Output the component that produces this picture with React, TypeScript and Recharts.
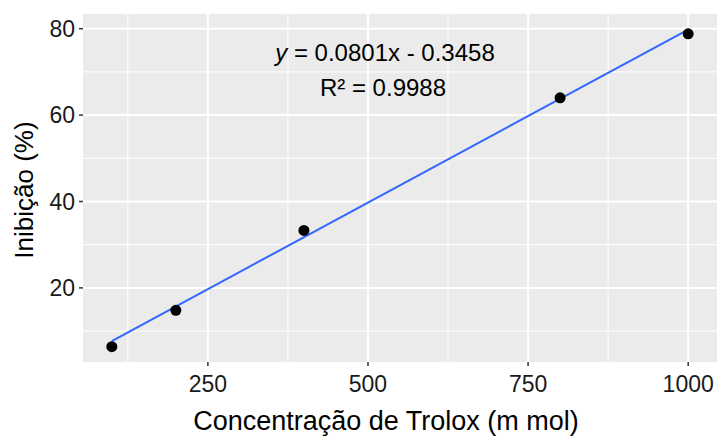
import React from "react";
import {
  ComposedChart,
  Scatter,
  Line,
  XAxis,
  YAxis,
  CartesianGrid,
  ReferenceDot,
  Label,
} from "recharts";

// values
const concentration = [100, 200, 400, 800, 1000];
const inhibition = [6.4, 14.8, 33.3, 64.0, 78.8];
const fitX = [100, 1000];
const fitY = [7.7, 79.8];
const xTicks = [250, 500, 750, 1000];
const xMinor = [125, 375, 625, 875];
const yTicks = [20, 40, 60, 80];
const yMinor = [10, 30, 50, 70];
const eqText = "= 0.0801x - 0.3458";
const r2Text = "R² = 0.9988";
const eqPos = { x: 525, y: 68.7 };

const points = concentration.map((x, i) => ({ x, y: inhibition[i] }));
const fitLine = fitX.map((x, i) => ({ x, y: fitY[i] }));

const FONT = "'Liberation Sans', Arial, sans-serif";

const XTitle = (props: any) => {
  const vb = props.viewBox;
  return (
    <text
      x={vb.x + vb.width / 2 - 14}
      y={vb.y + 68}
      textAnchor="middle"
      fontFamily={FONT}
      fontSize={27}
      fill="#000"
    >
      Concentração de Trolox (m mol)
    </text>
  );
};

const YTitle = () => (
  <text
    x={33}
    y={190}
    transform="rotate(-90, 33, 190)"
    textAnchor="middle"
    fontFamily={FONT}
    fontSize={26}
    fill="#000"
  >
    Inibição (%)
  </text>
);

const Annotation = (props: any) => (
  <text textAnchor="middle" fontFamily={FONT} fontSize={24} fill="#000">
    <tspan x={props.cx + 1} y={props.cy - 17}>
      <tspan fontStyle="italic">y</tspan> {eqText}
    </tspan>
    <tspan x={props.cx - 1} y={props.cy + 18}>
      {r2Text}
    </tspan>
  </text>
);

const tickStyle = { fontFamily: FONT, fontSize: 23, fill: "#1a1a1a" };

export default function App() {
  return (
    <div style={{ position: "absolute", left: 0, top: 0 }}>
      <ComposedChart
        width={721}
        height={437}
        margin={{ top: 14, right: 4, bottom: 0, left: 0 }}
      >
        <CartesianGrid
          fill="#EBEBEB"
          stroke="#FFFFFF"
          strokeWidth={1}
          horizontalValues={yMinor}
          verticalValues={xMinor}
        />
        <CartesianGrid
          stroke="#FFFFFF"
          strokeWidth={2}
          horizontalValues={yTicks}
          verticalValues={xTicks}
        />
        <XAxis
          dataKey="x"
          type="number"
          domain={[55, 1045]}
          ticks={xTicks}
          allowDataOverflow
          height={75}
          axisLine={false}
          tickSize={4}
          tickMargin={10}
          tickLine={{ stroke: "#333", strokeWidth: 1.5 }}
          tick={tickStyle}
        >
          <Label content={XTitle} />
        </XAxis>
        <YAxis
          dataKey="y"
          type="number"
          domain={[2.85, 83.4]}
          ticks={yTicks}
          allowDataOverflow
          width={83}
          axisLine={false}
          tickSize={4}
          tickMargin={4}
          tickLine={{ stroke: "#333", strokeWidth: 1.5 }}
          tick={tickStyle}
        >
          <Label content={YTitle} />
        </YAxis>
        <Line
          data={fitLine}
          dataKey="y"
          stroke="#3366FF"
          strokeWidth={2}
          dot={false}
          activeDot={false}
          isAnimationActive={false}
        />
        <Scatter
          data={points}
          dataKey="y"
          isAnimationActive={false}
          shape={(p: any) => <circle cx={p.cx} cy={p.cy} r={5.5} fill="#000" />}
        />
        <ReferenceDot
          x={eqPos.x}
          y={eqPos.y}
          r={0}
          shape={Annotation}
        />
      </ComposedChart>
    </div>
  );
}
